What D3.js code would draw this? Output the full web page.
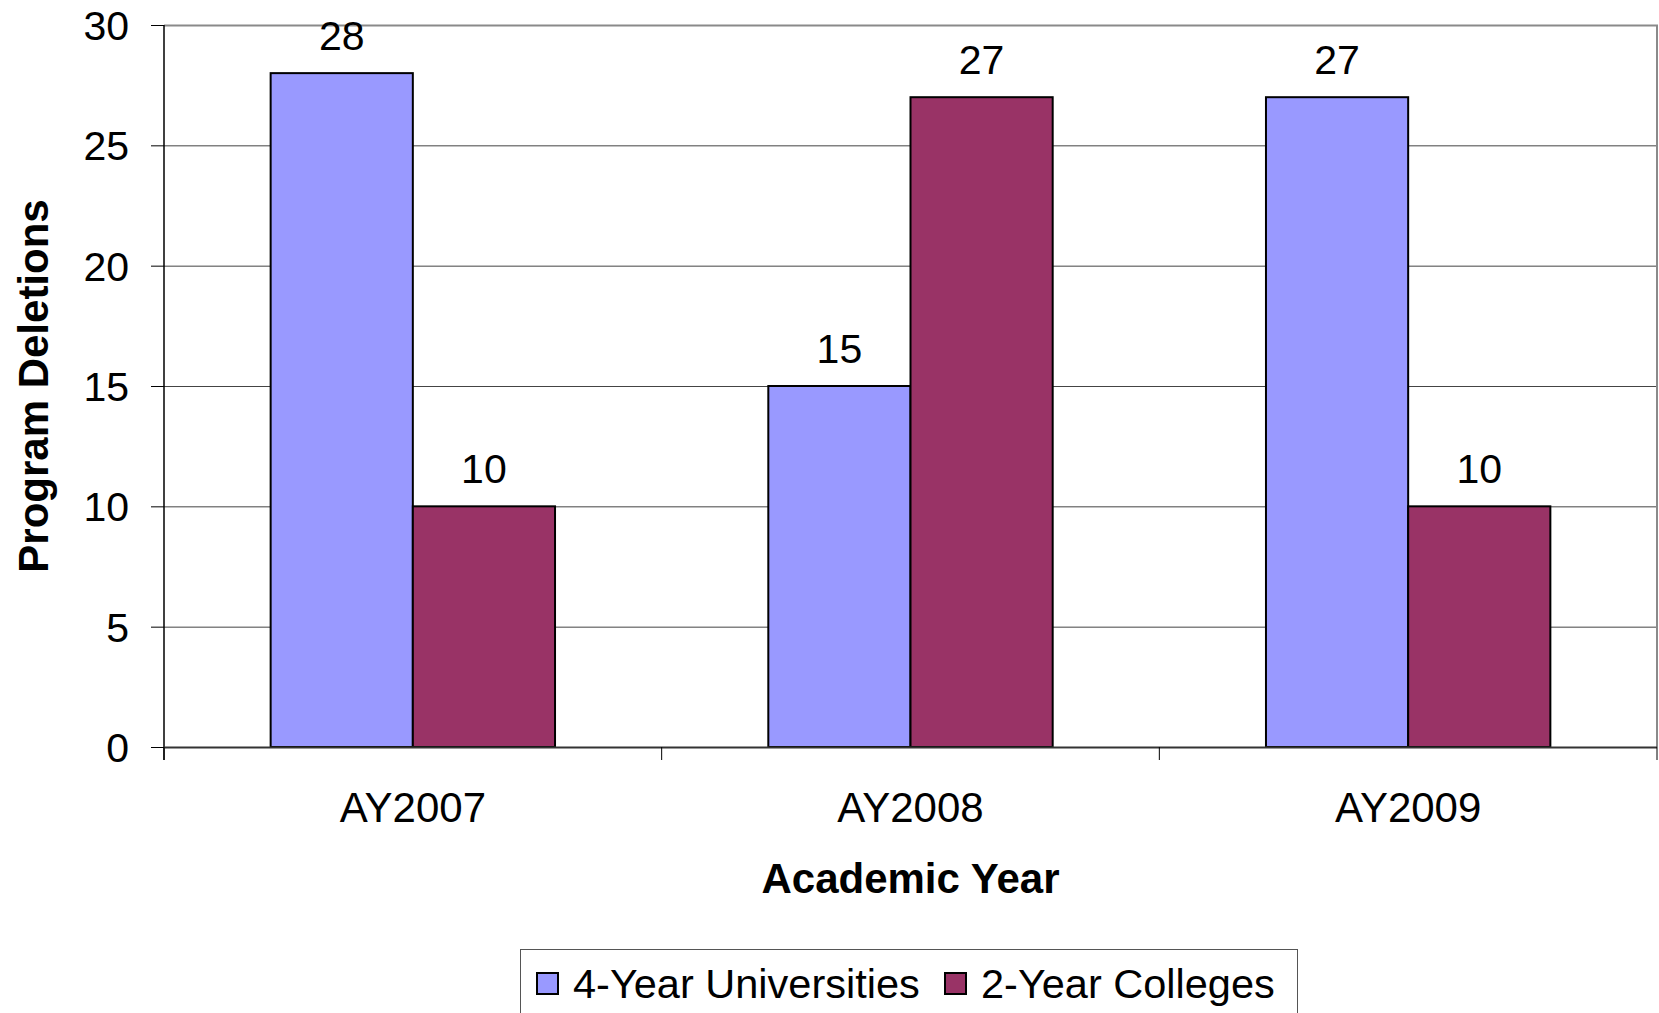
<!DOCTYPE html>
<html>
<head>
<meta charset="utf-8">
<script src="https://cdn.jsdelivr.net/npm/d3@7"></script>
<style>
    html, body { margin: 0; padding: 0; background: #fff; }
    svg { display: block; font-family: "Liberation Sans", Arial, sans-serif; }
</style>
</head>
<body>
<div id="chart"></div>
<script>
// Chart data
const categories = ['AY2007', 'AY2008', 'AY2009'];
const seriesNames = ['4-Year Universities', '2-Year Colleges'];
const universities = [28, 15, 27];
const colleges = [10, 27, 10];
const yTicks = [0, 5, 10, 15, 20, 25, 30];

const colors = ['#9999ff', '#993366'];
const width = 1659, height = 1013;
const plot = { left: 164, top: 25, right: 1657, bottom: 747 };

const svg = d3.select('#chart').append('svg')
    .attr('width', width)
    .attr('height', height);

const x0 = d3.scaleBand()
    .domain(categories)
    .range([plot.left, plot.right]);

// Excel style: gap width 150% between groups
const x1 = d3.scaleBand()
    .domain(seriesNames)
    .range([0, x0.bandwidth()])
    .paddingInner(0)
    .paddingOuter(0.75);

const y = d3.scaleLinear()
    .domain([0, 30])
    .range([plot.bottom, plot.top]);

// Gridlines
svg.append('g')
    .selectAll('line')
    .data(yTicks.filter(d => d > 0))
    .enter().append('line')
    .attr('x1', plot.left)
    .attr('x2', plot.right)
    .attr('y1', d => y(d) + 0.5)
    .attr('y2', d => y(d) + 0.5)
    .attr('stroke', '#444')
    .attr('stroke-width', 1);

// Plot area border (top/right)
svg.append('path')
    .attr('d', `M${plot.left},${y(30) + 0.5}H${plot.right}V${plot.bottom}`)
    .attr('fill', 'none')
    .attr('stroke', '#8a8a8a')
    .attr('stroke-width', 2);

// Bars
const rows = categories.map((c, i) => ({ cat: c, values: [universities[i], colleges[i]] }));

const group = svg.append('g')
    .selectAll('g')
    .data(rows)
    .enter().append('g')
    .attr('transform', d => `translate(${x0(d.cat)},0)`);

group.selectAll('rect')
    .data(d => d.values.map((v, j) => ({ name: seriesNames[j], value: v, idx: j })))
    .enter().append('rect')
    .attr('x', d => x1(d.name))
    .attr('y', d => y(d.value))
    .attr('width', x1.bandwidth())
    .attr('height', d => y(0) - y(d.value))
    .attr('fill', d => colors[d.idx])
    .attr('stroke', '#000')
    .attr('stroke-width', 2);

group.selectAll('text')
    .data(d => d.values.map((v, j) => ({ name: seriesNames[j], value: v })))
    .enter().append('text')
    .attr('x', d => x1(d.name) + x1.bandwidth() / 2)
    .attr('y', d => y(d.value) - 23)
    .attr('text-anchor', 'middle')
    .attr('font-size', '41px')
    .attr('fill', '#000')
    .text(d => d.value);

// Y axis
const yAxis = svg.append('g');
yAxis.append('line')
    .attr('x1', plot.left).attr('x2', plot.left)
    .attr('y1', plot.top).attr('y2', plot.bottom + 13)
    .attr('stroke', '#000').attr('stroke-width', 1.5);

yAxis.selectAll('.tick')
    .data(yTicks)
    .enter().append('line')
    .attr('x1', plot.left - 13).attr('x2', plot.left)
    .attr('y1', d => y(d) + 0.5).attr('y2', d => y(d) + 0.5)
    .attr('stroke', '#000').attr('stroke-width', 1);

yAxis.selectAll('text')
    .data(yTicks)
    .enter().append('text')
    .attr('x', 129)
    .attr('y', d => y(d) + 15)
    .attr('text-anchor', 'end')
    .attr('font-size', '41px')
    .text(d => d);

// X axis
const xAxis = svg.append('g');
xAxis.append('line')
    .attr('x1', plot.left).attr('x2', plot.right)
    .attr('y1', plot.bottom + 0.5).attr('y2', plot.bottom + 0.5)
    .attr('stroke', '#333').attr('stroke-width', 2);

const boundaries = categories.map(c => x0(c)).concat([plot.right]);
xAxis.selectAll('.tick')
    .data(boundaries)
    .enter().append('line')
    .attr('x1', d => d).attr('x2', d => d)
    .attr('y1', plot.bottom).attr('y2', plot.bottom + 13)
    .attr('stroke', '#000').attr('stroke-width', 1);

xAxis.selectAll('text')
    .data(categories)
    .enter().append('text')
    .attr('x', d => x0(d) + x0.bandwidth() / 2)
    .attr('y', 822)
    .attr('text-anchor', 'middle')
    .attr('font-size', '42px')
    .text(d => d);

// Axis titles
svg.append('text')
    .attr('x', (plot.left + plot.right) / 2)
    .attr('y', 893)
    .attr('text-anchor', 'middle')
    .attr('font-size', '42px')
    .attr('font-weight', 'bold')
    .text('Academic Year');

svg.append('text')
    .attr('transform', `translate(48,${(plot.top + plot.bottom) / 2}) rotate(-90)`)
    .attr('text-anchor', 'middle')
    .attr('font-size', '42px')
    .attr('font-weight', 'bold')
    .text('Program Deletions');

// Legend
const legend = svg.append('g');
legend.append('rect')
    .attr('x', 520.5).attr('y', 949.5)
    .attr('width', 777).attr('height', 80)
    .attr('fill', '#fff')
    .attr('stroke', '#555')
    .attr('stroke-width', 1);

const legendX = [537, 945];
const legendItem = legend.selectAll('.item')
    .data(seriesNames)
    .enter().append('g')
    .attr('transform', (d, i) => `translate(${legendX[i]},973)`);

legendItem.append('rect')
    .attr('width', 21).attr('height', 21)
    .attr('fill', (d, i) => colors[i])
    .attr('stroke', '#000')
    .attr('stroke-width', 2);

legendItem.append('text')
    .attr('x', 36)
    .attr('y', 25)
    .attr('font-size', '41.5px')
    .text(d => d);
</script>
</body>
</html>
